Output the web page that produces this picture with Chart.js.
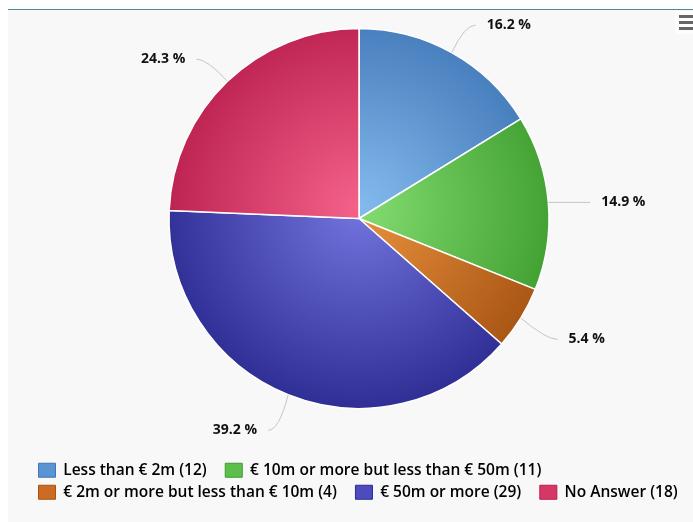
<!DOCTYPE html>
<html>
<head>
<meta charset="utf-8">
<script src="https://cdn.jsdelivr.net/npm/chart.js@4/dist/chart.umd.min.js"></script>
<style>
    body { margin: 0; background: #ffffff; }
    #panel {
        position: absolute; left: 8px; top: 9px; width: 685px; height: 512px;
        background: #f8f8f8; border-top: 1px solid #4f8798; overflow: hidden;
    }
    /* canvas starts a little above the panel so the pie sits where it should */
    #chartBox { position: absolute; left: 0; top: -29px; width: 685px; height: 541px; }
    #menu { position: absolute; left: 667px; top: 1px; width: 18px; height: 23px; background: #fdfdfd; }
    #menu div { position: absolute; left: 4px; width: 14px; height: 3px; background: #666666; }
</style>
</head>
<body>
<div id="panel">
    <div id="chartBox"><canvas id="pieChart"></canvas></div>
    <div id="menu"><div style="top:4px"></div><div style="top:10px"></div><div style="top:16px"></div></div>
</div>
<script>
// chart data
let categories = ['Less than € 2m', '€ 10m or more but less than € 50m', '€ 2m or more but less than € 10m', '€ 50m or more', 'No Answer'];
let counts = [12, 11, 4, 29, 18];

// colours: light centre, dark rim, legend swatch
let lightColors = ['#84bbee', '#84dd72', '#e8923e', '#7474de', '#f4628a'];
let darkColors = ['#3f76b6', '#3e9c2e', '#a65212', '#2b2b92', '#b81d4c'];
let swatchColors = ['#5a94d2', '#5cbf4c', '#cc6c24', '#4c4cbc', '#d63864'];

let total = counts.reduce((a, b) => a + b, 0);

function sliceFill(ctx) {
    let i = ctx.dataIndex;
    let area = ctx.chart.chartArea;
    if (!area) return swatchColors[i];
    let cx = (area.left + area.right) / 2;
    let cy = (area.top + area.bottom) / 2;
    let g = ctx.chart.ctx.createRadialGradient(cx, cy - 10, 0, cx, cy - 10, 210);
    g.addColorStop(0, lightColors[i]);
    g.addColorStop(1, darkColors[i]);
    return g;
}

// percent labels with connectors outside the pie
const outsideLabels = {
    id: 'outsideLabels',
    afterDatasetsDraw(chart) {
        let ctx = chart.ctx;
        let meta = chart.getDatasetMeta(0);
        ctx.save();
        ctx.font = 'bold 14px "Open Sans"';
        ctx.textBaseline = 'middle';
        meta.data.forEach((arc, i) => {
            let mid = (arc.startAngle + arc.endAngle) / 2;
            let r = arc.outerRadius;
            let cos = Math.cos(mid), sin = Math.sin(mid);
            let ex = arc.x + r * cos, ey = arc.y + r * sin;
            let ax = arc.x + (r + 35) * cos, ay = arc.y + (r + 35) * sin + 3;
            let right = cos >= 0;
            let endX = ax + (right ? 7 : -7);
            ctx.strokeStyle = '#c4c4c4';
            ctx.lineWidth = 1;
            ctx.beginPath();
            ctx.moveTo(ex, ey);
            ctx.quadraticCurveTo(ax - (right ? 4 : -4), ay, endX, ay);
            ctx.stroke();
            ctx.fillStyle = '#111111';
            ctx.textAlign = right ? 'left' : 'right';
            let pct = (counts[i] / total * 100).toFixed(1) + ' %';
            ctx.fillText(pct, ax + (right ? 18 : -18), ay);
        });
        ctx.restore();
    }
};

new Chart(document.getElementById('pieChart'), {
    type: 'pie',
    data: {
        labels: categories,
        datasets: [{
            data: counts,
            backgroundColor: sliceFill,
            borderColor: '#ffffff',
            borderWidth: 1.5,
            radius: 190
        }]
    },
    options: {
        responsive: true,
        maintainAspectRatio: false,
        animation: false,
        layout: { padding: { left: 24, right: 7, top: 0, bottom: 12 } },
        plugins: {
            tooltip: { enabled: false },
            legend: {
                position: 'bottom',
                align: 'start',
                labels: {
                    boxWidth: 17,
                    boxHeight: 14,
                    padding: 6.5,
                    color: '#333333',
                    font: { family: '"Open Sans"', size: 15.5, weight: '600' },
                    generateLabels: function (chart) {
                        // trailing spaces widen the gap to the next item
                        return categories.map((name, i) => ({
                            text: name + ' (' + counts[i] + ')' + (i < categories.length - 1 ? '   ' : ''),
                            fillStyle: swatchColors[i],
                            strokeStyle: darkColors[i],
                            lineWidth: 1,
                            index: i
                        }));
                    }
                }
            }
        }
    },
    plugins: [outsideLabels]
});
</script>
</body>
</html>
